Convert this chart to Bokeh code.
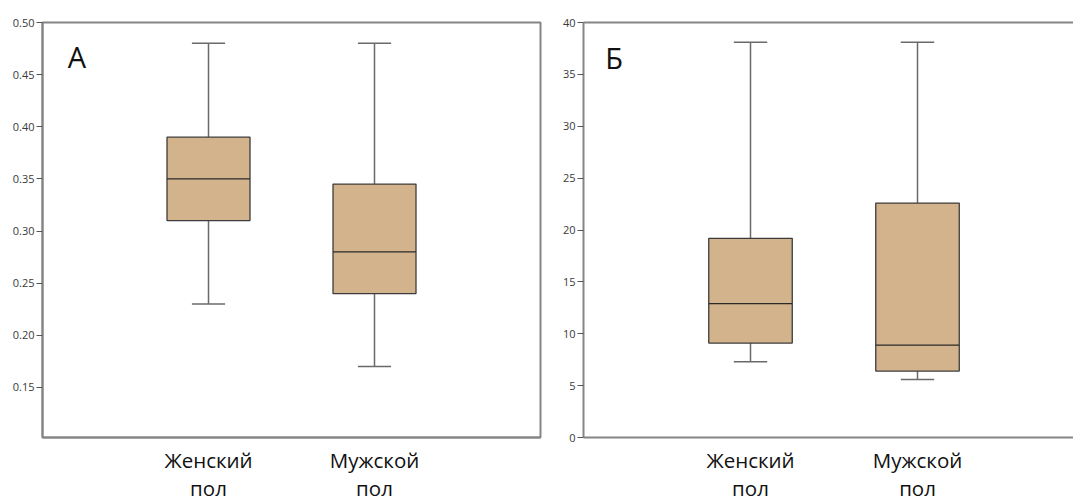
from bokeh.plotting import figure
from bokeh.layouts import row, column
from bokeh.models import Range1d, FixedTicker, LinearAxis, Label
from bokeh.core.properties import value
from bokeh.embed import file_html
from bokeh.resources import INLINE

# Groups and box statistics (min, Q1, median, Q3, max)
group_line1 = ["Женский", "Мужской"]
group_line2 = ["пол", "пол"]
positions = [1, 2]

a_min = [0.23, 0.17]
a_q1 = [0.31, 0.24]
a_med = [0.35, 0.28]
a_q3 = [0.39, 0.345]
a_max = [0.48, 0.48]
a_ticks = [0.15, 0.20, 0.25, 0.30, 0.35, 0.40, 0.45, 0.50]
a_tick_labels = ["0.15", "0.20", "0.25", "0.30", "0.35", "0.40", "0.45", "0.50"]

b_min = [7.3, 5.6]
b_q1 = [9.1, 6.4]
b_med = [12.9, 8.9]
b_q3 = [19.2, 22.6]
b_max = [38.1, 38.1]
b_ticks = [0, 5, 10, 15, 20, 25, 30, 35, 40]
b_tick_labels = ["0", "5", "10", "15", "20", "25", "30", "35", "40"]

FONT = "Open Sans"
AXIS_GREY = "#858585"
BOX_FILL = "#D2B38B"
BOX_LINE = "#3c3c3c"
WHISKER = "#6a6a6a"

PLOT_H = 445     # box-plot panel height
STRIP_H = 56     # group-name strip under each panel


def boxplot(width, x_range, y_start, y_end, ticks, tick_labels,
            mins, q1, med, q3, maxs, letter, letter_x, letter_y,
            border_left, border_top, border_right, outline):
    p = figure(width=width, height=PLOT_H, output_backend="svg",
               toolbar_location=None, x_range=x_range,
               y_range=Range1d(y_start, y_end),
               x_axis_location=None, y_axis_location=None,
               min_border_left=border_left, min_border_right=border_right,
               min_border_top=border_top, min_border_bottom=8)
    p.background_fill_color = "white"
    p.border_fill_color = "white"
    p.xgrid.visible = False
    p.ygrid.visible = False
    if outline:
        p.outline_line_color = AXIS_GREY
        p.outline_line_width = 2
    else:
        p.outline_line_color = None
        top = LinearAxis(ticker=FixedTicker(ticks=[]),
                         axis_line_color=AXIS_GREY, axis_line_width=2,
                         major_tick_line_color=None, minor_tick_line_color=None,
                         major_label_text_font_size="0px", major_label_standoff=0)
        p.add_layout(top, "above")

    yaxis = LinearAxis(ticker=FixedTicker(ticks=ticks),
                       major_label_overrides={t: l for t, l in zip(ticks, tick_labels)},
                       axis_line_color=AXIS_GREY, axis_line_width=2,
                       major_tick_line_color="#555555", major_tick_line_width=1,
                       major_tick_in=0, major_tick_out=6,
                       minor_tick_line_color=None,
                       major_label_standoff=2,
                       major_label_text_font=FONT,
                       major_label_text_font_size="11px",
                       major_label_text_color="#3a3a3a")
    p.add_layout(yaxis, "left")

    xaxis = LinearAxis(ticker=FixedTicker(ticks=[]),
                       axis_line_color=AXIS_GREY, axis_line_width=2,
                       major_tick_line_color=None, minor_tick_line_color=None,
                       major_label_text_font_size="0px", major_label_standoff=0)
    p.add_layout(xaxis, "below")

    # whiskers and caps
    p.segment(x0=positions, y0=q3, x1=positions, y1=maxs,
              line_color=WHISKER, line_width=1.5)
    p.segment(x0=positions, y0=q1, x1=positions, y1=mins,
              line_color=WHISKER, line_width=1.5)
    p.segment(x0=[x - 0.1 for x in positions], y0=maxs,
              x1=[x + 0.1 for x in positions], y1=maxs,
              line_color=WHISKER, line_width=1.5)
    p.segment(x0=[x - 0.1 for x in positions], y0=mins,
              x1=[x + 0.1 for x in positions], y1=mins,
              line_color=WHISKER, line_width=1.5)
    # boxes and medians
    p.vbar(x=positions, width=0.5, bottom=q1, top=q3,
           fill_color=BOX_FILL, line_color=BOX_LINE, line_width=1.3)
    p.segment(x0=[x - 0.25 for x in positions], y0=med,
              x1=[x + 0.25 for x in positions], y1=med,
              line_color="#2a2a2a", line_width=1.3)

    p.add_layout(Label(x=letter_x, y=letter_y, text=letter,
                       text_font=FONT, text_font_size="29px",
                       text_color="#111111", text_baseline="top"))
    return p


def name_strip(width, x_range, border_left, border_right):
    # two-line group names; y is measured in pixels from the strip bottom
    s = figure(width=width, height=STRIP_H, output_backend="svg",
               toolbar_location=None, x_range=x_range,
               y_range=Range1d(0, STRIP_H),
               x_axis_location=None, y_axis_location=None,
               min_border_left=border_left, min_border_right=border_right,
               min_border_top=0, min_border_bottom=0)
    s.outline_line_color = None
    s.xgrid.visible = False
    s.ygrid.visible = False
    s.background_fill_color = "white"
    s.border_fill_color = "white"
    s.text(x=positions, y=[42] * len(positions), text=group_line1,
           text_font=value(FONT), text_font_size="20.5px",
           text_color="#111111", text_align="center",
           text_baseline="middle")
    s.text(x=positions, y=[14] * len(positions), text=group_line2,
           text_font=value(FONT), text_font_size="20.5px",
           text_color="#111111", text_align="center",
           text_baseline="middle")
    return s


xr_a = Range1d(0, 3.0)
xr_b = Range1d(0, 2.934)

pa = boxplot(545, xr_a, 0.102, 0.50, a_ticks, a_tick_labels,
             a_min, a_q1, a_med, a_q3, a_max, "А", 0.152, 0.486,
             border_left=42, border_top=20, border_right=5, outline=True)
pb = boxplot(528, xr_b, 0, 40, b_ticks, b_tick_labels,
             b_min, b_q1, b_med, b_q3, b_max, "Б", 0.13, 38.5,
             border_left=38, border_top=22, border_right=0, outline=False)
sa = name_strip(545, xr_a, 42, 5)
sb = name_strip(528, xr_b, 38, 0)

layout = column(row(pa, pb), row(sa, sb))
open("out.html", "w").write(file_html(layout, INLINE))
